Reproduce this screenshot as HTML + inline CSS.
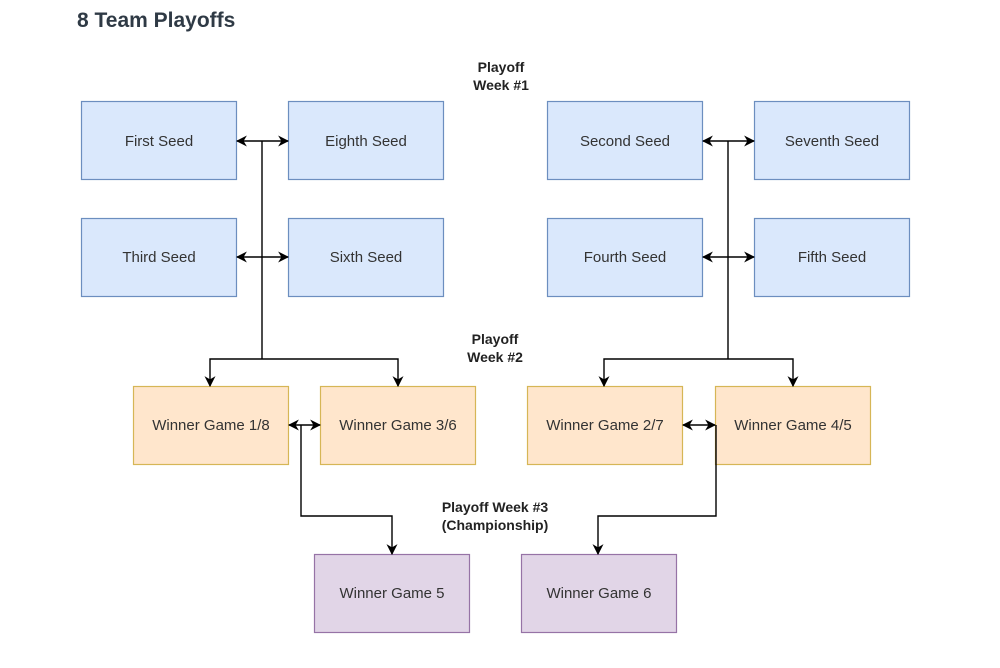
<!DOCTYPE html>
<html><head><meta charset="utf-8"><style>
body{margin:0;width:1000px;height:668px;background:#fff;position:relative;overflow:hidden;font-family:"Liberation Sans",sans-serif}
h1{position:absolute;left:77px;top:9px;margin:0;font-size:21px;font-weight:bold;color:#2f3a45}
</style></head><body>
<h1>8 Team Playoffs</h1>
<svg width="1000" height="668" style="position:absolute;left:0;top:0" font-family="Liberation Sans, sans-serif">
<defs><marker id="a" viewBox="0 0 10 10" refX="9" refY="5" markerWidth="11" markerHeight="11" markerUnits="userSpaceOnUse" orient="auto-start-reverse"><path d="M0,0L10,5L0,10L3,5z" fill="#000"/></marker></defs>
<g stroke-width="1.2">
<g fill="#dae8fc" stroke="#6c8ebf">
<rect x="81.5" y="101.5" width="155" height="78"/><rect x="288.5" y="101.5" width="155" height="78"/>
<rect x="81.5" y="218.5" width="155" height="78"/><rect x="288.5" y="218.5" width="155" height="78"/>
<rect x="547.5" y="101.5" width="155" height="78"/><rect x="754.5" y="101.5" width="155" height="78"/>
<rect x="547.5" y="218.5" width="155" height="78"/><rect x="754.5" y="218.5" width="155" height="78"/>
</g>
<g fill="#ffe6cc" stroke="#d6b656">
<rect x="133.5" y="386.5" width="155" height="78"/><rect x="320.5" y="386.5" width="155" height="78"/>
<rect x="527.5" y="386.5" width="155" height="78"/><rect x="715.5" y="386.5" width="155" height="78"/>
</g>
<g fill="#e1d5e7" stroke="#9673a6">
<rect x="314.5" y="554.5" width="155" height="78"/><rect x="521.5" y="554.5" width="155" height="78"/>
</g>
</g>
<g stroke="#000" stroke-width="1.4" fill="none">
<line x1="237" y1="141" x2="288" y2="141" marker-start="url(#a)" marker-end="url(#a)"/>
<line x1="237" y1="257" x2="288" y2="257" marker-start="url(#a)" marker-end="url(#a)"/>
<line x1="703" y1="141" x2="754" y2="141" marker-start="url(#a)" marker-end="url(#a)"/>
<line x1="703" y1="257" x2="754" y2="257" marker-start="url(#a)" marker-end="url(#a)"/>
<path d="M262,141V359"/><path d="M728,141V359"/>
<path d="M262,359H210V386" marker-end="url(#a)"/><path d="M262,359H398V386" marker-end="url(#a)"/>
<path d="M728,359H604V386" marker-end="url(#a)"/><path d="M728,359H793V386" marker-end="url(#a)"/>
<line x1="289" y1="425" x2="320" y2="425" marker-start="url(#a)" marker-end="url(#a)"/>
<line x1="683" y1="425" x2="715" y2="425" marker-start="url(#a)" marker-end="url(#a)"/>
<path d="M301,425V516H392V554" marker-end="url(#a)"/>
<path d="M716,425V516H598V554" marker-end="url(#a)"/>
</g>
<g font-size="15" fill="#333" text-anchor="middle">
<text x="159" y="146">First Seed</text><text x="366" y="146">Eighth Seed</text>
<text x="159" y="262">Third Seed</text><text x="366" y="262">Sixth Seed</text>
<text x="625" y="146">Second Seed</text><text x="832" y="146">Seventh Seed</text>
<text x="625" y="262">Fourth Seed</text><text x="832" y="262">Fifth Seed</text>
<text x="211" y="430">Winner Game 1/8</text><text x="398" y="430">Winner Game 3/6</text>
<text x="605" y="430">Winner Game 2/7</text><text x="793" y="430">Winner Game 4/5</text>
<text x="392" y="598">Winner Game 5</text><text x="599" y="598">Winner Game 6</text>
</g>
<g font-size="14" font-weight="bold" fill="#222" text-anchor="middle">
<text x="501" y="72">Playoff</text><text x="501" y="90">Week #1</text>
<text x="495" y="344">Playoff</text><text x="495" y="362">Week #2</text>
<text x="495" y="512">Playoff Week #3</text><text x="495" y="530">(Championship)</text>
</g>
</svg>
</body></html>
